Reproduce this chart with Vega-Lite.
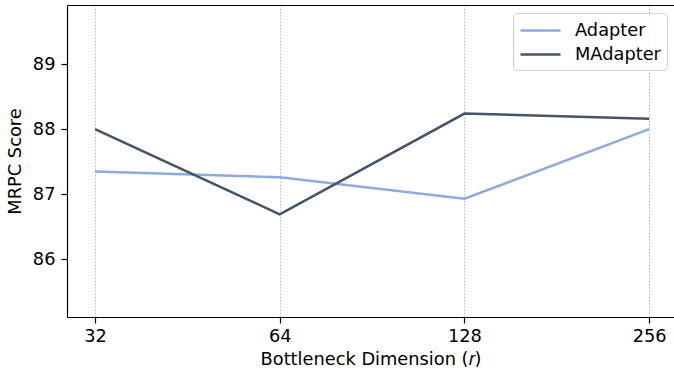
{
  "$schema": "https://vega.github.io/schema/vega-lite/v6.json",
  "autosize": {"type": "none"},
  "width": 607,
  "height": 312,
  "padding": {"left": 67, "top": 5, "right": 0, "bottom": 59},
  "background": "white",
  "config": {
    "view": {"stroke": null},
    "font": "DejaVu Sans",
    "axis": {
      "labelFont": "DejaVu Sans",
      "titleFont": "DejaVu Sans",
      "labelFontSize": 17.8,
      "titleFontSize": 17.8,
      "labelColor": "black",
      "titleColor": "black",
      "titleFontWeight": "normal",
      "domainColor": "black",
      "domainWidth": 1.2,
      "tickColor": "black",
      "tickWidth": 1.2,
      "tickSize": 6
    },
    "legend": {
      "labelFont": "DejaVu Sans",
      "labelFontSize": 17.8,
      "labelColor": "black"
    }
  },
  "data": {
    "values": [
      {"r": 32, "score": 87.35, "method": "Adapter"},
      {"r": 64, "score": 87.26, "method": "Adapter"},
      {"r": 128, "score": 86.93, "method": "Adapter"},
      {"r": 256, "score": 88.0, "method": "Adapter"},
      {"r": 32, "score": 88.0, "method": "MAdapter"},
      {"r": 64, "score": 86.69, "method": "MAdapter"},
      {"r": 128, "score": 88.24, "method": "MAdapter"},
      {"r": 256, "score": 88.16, "method": "MAdapter"}
    ]
  },
  "layer": [
    {
      "mark": {"type": "line", "strokeWidth": 2.5},
      "encoding": {
        "x": {
          "field": "r",
          "type": "quantitative",
          "scale": {"type": "log", "base": 2, "domain": [28.81, 281.0], "nice": false},
          "axis": {
            "values": [32, 64, 128, 256],
            "format": "d",
            "title": "Bottleneck Dimension (𝑟)",
            "grid": true,
            "gridColor": "#a8a8a8",
            "gridDash": [1.2, 2],
            "gridWidth": 1,
            "labelPadding": 4,
            "titlePadding": 6,
            "labelFlush": false
          }
        },
        "y": {
          "field": "score",
          "type": "quantitative",
          "scale": {"domain": [85.11, 89.91], "nice": false, "zero": false},
          "axis": {
            "values": [86, 87, 88, 89],
            "format": "d",
            "title": "MRPC Score",
            "grid": false,
            "labelPadding": 6,
            "titlePadding": 8,
            "labelFlush": false
          }
        },
        "color": {
          "field": "method",
          "type": "nominal",
          "scale": {"domain": ["Adapter", "MAdapter"], "range": ["#8FAADC", "#44546A"]},
          "legend": {
            "title": null,
            "orient": "none",
            "legendX": 446,
            "legendY": 8,
            "symbolType": "M-1,0H3",
            "symbolSize": 400,
            "symbolStrokeWidth": 2.5,
            "labelOffset": 33,
            "padding": 6,
            "strokeColor": "#d0d0d0",
            "cornerRadius": 4,
            "fillColor": "rgba(255,255,255,0.85)",
            "rowPadding": 3
          }
        }
      }
    },
    {
      "mark": {"type": "point", "opacity": 0},
      "encoding": {
        "x": {
          "field": "r",
          "type": "quantitative",
          "axis": {
            "orient": "top",
            "labels": false,
            "ticks": false,
            "title": null,
            "grid": false,
            "values": [32, 64, 128, 256]
          }
        },
        "y": {"field": "score", "type": "quantitative"}
      }
    }
  ],
  "resolve": {"axis": {"x": "independent"}}
}
